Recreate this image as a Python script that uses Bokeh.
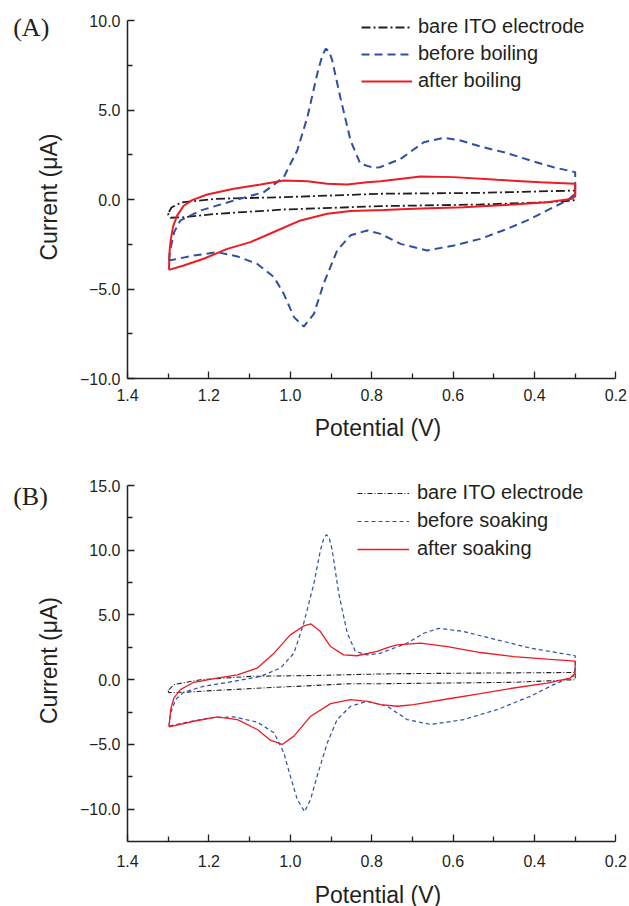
from bokeh.plotting import figure
from bokeh.models import Range1d, FixedTicker, Legend, LegendItem, Label
from bokeh.layouts import column
from bokeh.embed import file_html
from bokeh.resources import INLINE
import math

# ---------------- data ----------------
# Panel A
a_bare_v = [1.298, 1.292, 1.275, 1.262, 1.18, 1.016, 0.778, 0.533, 0.3, 0.3, 0.305, 0.369, 0.533, 0.778,
            1.016, 1.18, 1.262, 1.294, 1.3, 1.298]
a_bare_i = [-0.7, -0.45, -0.25, -0.15, 0.04, 0.13, 0.32, 0.37, 0.5, 0.0, -0.06, -0.15, -0.28, -0.37,
            -0.56, -0.8, -0.99, -1.02, -0.85, -0.7]

a_before_v = [1.298, 1.295, 1.285, 1.27, 1.22, 1.139, 1.065, 1.016, 0.983, 0.958, 0.946, 0.934, 0.922, 0.913,
              0.905, 0.897, 0.877, 0.852, 0.828, 0.795, 0.78, 0.729, 0.672, 0.623, 0.582, 0.533, 0.467, 0.41,
              0.353, 0.3, 0.3, 0.32, 0.369, 0.418, 0.467, 0.533, 0.598, 0.664, 0.729, 0.778, 0.811, 0.852,
              0.885, 0.918, 0.942, 0.967, 0.991, 1.016, 1.04, 1.081, 1.13, 1.18, 1.237, 1.298]
a_before_i = [-3.41, -2.8, -1.8, -1.17, -0.61, -0.06, 0.41, 1.25, 2.74, 4.6, 5.8, 7.0, 8.0, 8.42,
              8.3, 7.77, 5.7, 3.3, 2.0, 1.77, 1.8, 2.27, 3.2, 3.45, 3.3, 2.96, 2.59, 2.18,
              1.8, 1.53, 0.32, -0.06, -0.61, -1.17, -1.64, -2.2, -2.57, -2.85, -2.48, -1.92, -1.73, -2.0,
              -2.85, -4.7, -6.39, -7.1, -6.57, -5.27, -4.34, -3.6, -3.18, -2.94, -3.13, -3.41]

a_after_v = [1.298, 1.297, 1.294, 1.288, 1.278, 1.262, 1.24, 1.204, 1.139, 1.073, 1.016, 0.958, 0.909, 0.86,
             0.811, 0.778, 0.68, 0.598, 0.492, 0.385, 0.3, 0.3, 0.307, 0.369, 0.451, 0.574, 0.697, 0.77,
             0.852, 0.909, 0.975, 1.032, 1.098, 1.155, 1.213, 1.262, 1.298]
a_after_i = [-3.93, -3.0, -2.3, -1.5, -0.9, -0.35, -0.02, 0.28, 0.6, 0.84, 1.06, 1.02, 0.88, 0.84,
             0.97, 1.02, 1.28, 1.25, 1.1, 0.97, 0.88, 0.22, 0.04, -0.15, -0.28, -0.43, -0.52, -0.58,
             -0.64, -0.8, -1.17, -1.73, -2.38, -2.76, -3.31, -3.69, -3.93]

# Panel B
b_bare_v = [1.298, 1.286, 1.221, 1.098, 0.934, 0.754, 0.533, 0.3, 0.3, 0.451, 0.614, 0.778, 0.852,
            1.016, 1.18, 1.262, 1.298, 1.3, 1.298]
b_bare_i = [-0.77, -0.38, 0.0, 0.26, 0.33, 0.46, 0.51, 0.56, 0.0, -0.2, -0.26, -0.31, -0.31,
            -0.56, -0.82, -0.97, -1.0, -0.88, -0.77]

b_before_v = [1.298, 1.294, 1.282, 1.262, 1.213, 1.139, 1.073, 1.024, 0.991, 0.967, 0.942, 0.926, 0.918, 0.911,
              0.904, 0.897, 0.881, 0.86, 0.84, 0.811, 0.778, 0.713, 0.672, 0.635, 0.574, 0.492, 0.41, 0.3,
              0.3, 0.305, 0.353, 0.41, 0.492, 0.574, 0.655, 0.713, 0.762, 0.778, 0.811, 0.852, 0.885,
              0.909, 0.934, 0.95, 0.965, 0.983, 1.0, 1.016, 1.04, 1.081, 1.139, 1.196, 1.253, 1.298]
b_before_i = [-3.59, -2.56, -1.54, -0.97, -0.51, -0.13, 0.26, 0.9, 2.05, 4.36, 7.44, 10.0, 10.9, 11.2,
              10.9, 10.0, 6.67, 3.59, 2.18, 1.92, 2.05, 2.82, 3.59, 3.97, 3.72, 3.08, 2.44, 1.85,
              0.9, 0.26, -0.38, -1.28, -2.31, -3.08, -3.46, -3.08, -2.05, -1.92, -1.67, -2.05, -3.08,
              -4.87, -7.44, -9.23, -10.2, -9.23, -7.44, -5.64, -4.1, -3.28, -2.87, -2.95, -3.28, -3.59]

b_after_v = [1.298, 1.294, 1.286, 1.27, 1.237, 1.18, 1.13, 1.081, 1.04, 1.0, 0.967, 0.949, 0.926, 0.901,
             0.869, 0.836, 0.787, 0.754, 0.737, 0.68, 0.614, 0.533, 0.451, 0.369, 0.3, 0.3, 0.312, 0.369,
             0.451, 0.533, 0.614, 0.697, 0.737, 0.778, 0.811, 0.852, 0.901, 0.95, 0.991, 1.02, 1.049,
             1.081, 1.13, 1.18, 1.237, 1.298]
b_after_i = [-3.64, -2.31, -1.41, -0.77, -0.2, 0.13, 0.38, 0.9, 2.05, 3.46, 4.15, 4.31, 3.72, 2.56,
             1.92, 1.85, 2.18, 2.56, 2.69, 2.82, 2.56, 2.1, 1.79, 1.59, 1.44, 0.51, 0.13, -0.26,
             -0.64, -1.08, -1.49, -1.92, -2.05, -1.92, -1.67, -1.54, -1.85, -2.82, -4.36, -5.0, -4.67,
             -3.85, -3.08, -2.87, -3.21, -3.64]

# ticks
x_ticks = [1.4, 1.2, 1.0, 0.8, 0.6, 0.4, 0.2]
x_tick_labels = ["1.4", "1.2", "1.0", "0.8", "0.6", "0.4", "0.2"]
x_minor = [1.3, 1.1, 0.9, 0.7, 0.5, 0.3]
a_y_ticks = [-10, -5, 0, 5, 10]
a_y_tick_labels = ["\u221210.0", "\u22125.0", "0.0", "5.0", "10.0"]
a_y_minor = [-7.5, -2.5, 2.5, 7.5]
b_y_ticks = [-10, -5, 0, 5, 10, 15]
b_y_tick_labels = ["\u221210.0", "\u22125.0", "0.0", "5.0", "10.0", "15.0"]
b_y_minor = [-7.5, -2.5, 2.5, 7.5, 12.5]

a_labels = ["bare ITO electrode", "before boiling", "after boiling"]
b_labels = ["bare ITO electrode", "before soaking", "after soaking"]
x_title = "Potential (V)"
y_title = "Current (\u03bcA)"

INK = "#231f20"
BLUE = "#2d4fa3"
RED = "#ec1c24"
FONT = "Liberation Sans"

W = 629
X_LEFT_PX = 127      # screen x of V = 1.4
PX_PER_V = 407.0


def px_to_v(px):
    return 1.4 + (X_LEFT_PX - px) / PX_PER_V


def make_fig(height, zero_px, px_per_unit):
    # frame covers the whole figure; axes are placed with fixed_location
    p = figure(width=W, height=height, output_backend="svg", toolbar_location=None,
               x_range=Range1d(px_to_v(0), px_to_v(W)),
               y_range=Range1d(-(height - zero_px) / px_per_unit, zero_px / px_per_unit),
               min_border_left=0, min_border_right=0, min_border_top=0, min_border_bottom=0)
    return p


def style(p, yt, ytl, ymin, ybounds, tick_standoff):
    p.xgrid.visible = False
    p.ygrid.visible = False
    p.outline_line_color = None
    p.xaxis.ticker = FixedTicker(ticks=x_ticks, minor_ticks=x_minor)
    p.xaxis.major_label_overrides = dict(zip(x_ticks, x_tick_labels))
    p.yaxis.ticker = FixedTicker(ticks=yt, minor_ticks=ymin)
    p.yaxis.major_label_overrides = dict(zip(yt, ytl))
    p.xaxis.bounds = (0.2, 1.4)
    p.yaxis.bounds = ybounds
    p.yaxis.fixed_location = 1.4
    p.xaxis.fixed_location = ybounds[0]
    for ax in (p.xaxis[0], p.yaxis[0]):
        ax.axis_line_color = INK
        ax.axis_line_width = 1.5
        ax.major_tick_line_color = INK
        ax.minor_tick_line_color = INK
        ax.major_tick_line_width = 1.3
        ax.minor_tick_line_width = 1.3
        ax.major_tick_in = 7
        ax.major_tick_out = 0
        ax.minor_tick_in = 5
        ax.minor_tick_out = 0
        ax.major_label_text_font = FONT
        ax.major_label_text_font_size = "16px"
        ax.major_label_text_color = INK
    p.xaxis.major_label_standoff = tick_standoff
    p.yaxis.major_label_standoff = 7


def add_titles(p, xt_y, yt_y, panel_text, panel_y):
    p.add_layout(Label(x=px_to_v(377.5), y=xt_y, text=x_title, text_font=FONT, text_font_size="23px",
                       text_color=INK, text_align="center", text_baseline="middle"))
    p.add_layout(Label(x=px_to_v(48), y=yt_y, text=y_title, text_font=FONT, text_font_size="23px",
                       text_color=INK, text_align="center", text_baseline="middle", angle=math.pi / 2))
    p.add_layout(Label(x=px_to_v(12.7), y=panel_y, text=panel_text, text_font="Liberation Serif",
                       text_font_size="26px", text_color=INK, text_baseline="middle", text_align="left"))


def legend(items, loc, gw, standoff, spacing):
    return Legend(items=items, location=loc, glyph_width=gw, glyph_height=22, label_height=22,
                  label_standoff=standoff, spacing=spacing, padding=0, margin=0,
                  border_line_color=None, background_fill_alpha=0,
                  label_text_font=FONT, label_text_font_size="20px", label_text_color=INK)


# ---------------- panel A ----------------
A_ZERO, A_SCALE = 199.0, 17.9
pa = make_fig(444, A_ZERO, A_SCALE)
style(pa, a_y_ticks, a_y_tick_labels, a_y_minor, (-10, 10), 10)
ra1 = pa.line(a_bare_v, a_bare_i, line_color=INK, line_width=1.8, line_dash="9 3 2 3")
ra2 = pa.line(a_before_v, a_before_i, line_color=BLUE, line_width=2, line_dash="8 5")
ra3 = pa.line(a_after_v, a_after_i, line_color=RED, line_width=2)
pa.add_layout(legend([LegendItem(label=a_labels[0], renderers=[ra1]),
                      LegendItem(label=a_labels[1], renderers=[ra2]),
                      LegendItem(label=a_labels[2], renderers=[ra3])], (361, 352), 51, 6, 4))
add_titles(pa, (A_ZERO - 427.0) / A_SCALE, (A_ZERO - 196.5) / A_SCALE, "(A)", (A_ZERO - 27.0) / A_SCALE)

# ---------------- panel B ----------------
B_ZERO, B_SCALE = 679.2 - 444.0, 12.945
pb = make_fig(462, B_ZERO, B_SCALE)
style(pb, b_y_ticks, b_y_tick_labels, b_y_minor, (-12.5, 15), 13)
rb1 = pb.line(b_bare_v, b_bare_i, line_color=INK, line_width=1.1, line_dash="5 2 1 2")
rb2 = pb.line(b_before_v, b_before_i, line_color=BLUE, line_width=1.2, line_dash="4 3")
rb3 = pb.line(b_after_v, b_after_i, line_color=RED, line_width=1.3)
pb.add_layout(legend([LegendItem(label=b_labels[0], renderers=[rb1]),
                      LegendItem(label=b_labels[1], renderers=[rb2]),
                      LegendItem(label=b_labels[2], renderers=[rb3])], (357, 346), 52, 8, 5))
add_titles(pb, (B_ZERO - (894.0 - 444.0)) / B_SCALE, (B_ZERO - (660.0 - 444.0)) / B_SCALE, "(B)",
           (B_ZERO - (496.0 - 444.0)) / B_SCALE)

layout = column(pa, pb)
open("out.html", "w").write(file_html(layout, INLINE))
